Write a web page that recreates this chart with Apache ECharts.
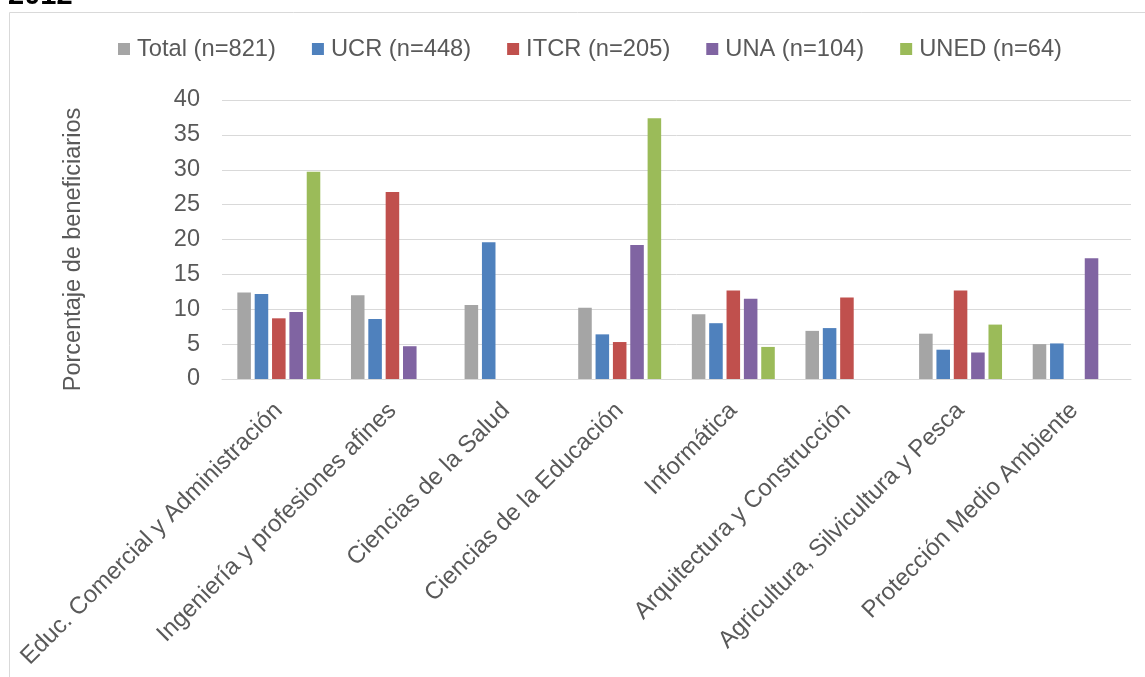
<!DOCTYPE html>
<html>
<head>
<meta charset="utf-8">
<script src="https://cdn.jsdelivr.net/npm/echarts@6/dist/echarts.min.js"></script>
<style>
html,body{margin:0;padding:0;background:#fff;}
#chart{width:1145px;height:677px;}
</style>
</head>
<body>
<div id="chart"></div>
<script>
var categories = [
  'Educ. Comercial y Administración',
  'Ingeniería y profesiones afines',
  'Ciencias de la Salud',
  'Ciencias de la Educación',
  'Informática',
  'Arquitectura y Construcción',
  'Agricultura, Silvicultura y Pesca',
  'Protección Medio Ambiente'
];
var seriesNames = ['Total (n=821)', 'UCR (n=448)', 'ITCR (n=205)', 'UNA (n=104)', 'UNED (n=64)'];
var totalValues = [12.4, 12.0, 10.6, 10.2, 9.3, 6.9, 6.5, 5.0];
var ucrValues   = [12.2, 8.6, 19.6, 6.4, 8.0, 7.3, 4.2, 5.1];
var itcrValues  = [8.7, 26.8, 0, 5.3, 12.7, 11.7, 12.7, 0];
var unaValues   = [9.6, 4.7, 0, 19.2, 11.5, 0, 3.8, 17.3];
var unedValues  = [29.7, 0, 0, 37.4, 4.6, 0, 7.8, 0];
var yTicks = [0, 5, 10, 15, 20, 25, 30, 35, 40];
var titleText = '2012';
var yAxisTitle = 'Porcentaje de beneficiarios';

var colors = ['#A5A5A5', '#4F81BD', '#C0504D', '#8064A2', '#9BBB59'];
var allValues = [totalValues, ucrValues, itcrValues, unaValues, unedValues];
var font = 'Liberation Sans, Arial, sans-serif';

var chart = echarts.init(document.getElementById('chart'), null, {renderer: 'canvas'});
var series = seriesNames.map(function (name, i) {
  return {
    name: name,
    type: 'bar',
    data: allValues[i],
    itemStyle: {color: colors[i]},
    barGap: '28%',
    barCategoryGap: '27%'
  };
});

chart.setOption({
  animation: false,
  color: colors,
  textStyle: {fontFamily: font},
  graphic: [
    {
      type: 'rect',
      shape: {x: 9.5, y: 12.5, width: 1300, height: 800},
      style: {fill: null, stroke: '#d9d9d9', lineWidth: 1},
      silent: true
    },
    {
      type: 'text',
      x: 8, y: -4,
      style: {text: titleText, font: 'bold 29px Liberation Sans, Arial, sans-serif', fill: '#000', textVerticalAlign: 'middle'},
      silent: true
    }
  ],
  legend: {
    data: seriesNames,
    left: 118,
    top: 37,
    padding: 0,
    itemWidth: 12,
    itemHeight: 12,
    itemGap: 36,
    icon: 'rect',
    textStyle: {fontSize: 23.7, color: '#595959', fontFamily: font, padding: [0, 0, 0, 2]}
  },
  grid: {left: 222, right: 14, top: 100, bottom: 298, containLabel: false},
  xAxis: {
    type: 'category',
    data: categories,
    axisLine: {show: true, lineStyle: {color: '#d9d9d9', width: 1}},
    axisTick: {show: false},
    axisLabel: {rotate: 45, fontSize: 24, color: '#595959', fontFamily: font, margin: 28, interval: 0}
  },
  yAxis: {
    type: 'value',
    min: yTicks[0],
    max: yTicks[yTicks.length - 1],
    interval: yTicks[1] - yTicks[0],
    name: yAxisTitle,
    nameLocation: 'middle',
    nameRotate: 90,
    nameGap: 136,
    nameTextStyle: {fontSize: 23.5, color: '#595959', fontFamily: font, padding: [0, 20, 0, 0]},
    axisLine: {show: false},
    axisTick: {show: false},
    axisLabel: {fontSize: 23.5, color: '#595959', fontFamily: font, margin: 22},
    splitLine: {lineStyle: {color: '#d9d9d9', width: 1}}
  },
  series: series
});
</script>
</body>
</html>
